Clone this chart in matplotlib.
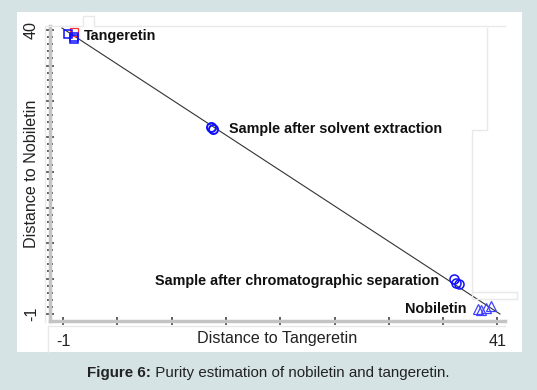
"""
Purity estimation plot (distance to tangeretin vs distance to nobiletin)
"""

import numpy as np
import matplotlib
matplotlib.use("Agg")
import matplotlib.pyplot as plt
from matplotlib.lines import Line2D
from matplotlib.patches import Rectangle

# data
tang_ref_x = [0.02]
tang_ref_y = [39.78]
tang_x = [-0.47, 0.06, 0.11]
tang_y = [39.49, 39.06, 38.70]
solvent_x = [13.31, 13.50]
solvent_y = [26.00, 25.78]
chrom_x = [36.75, 36.99, 37.28]
chrom_y = [4.05, 3.48, 3.40]
nob_x = [39.12, 39.41, 39.90, 40.38]
nob_y = [-0.28, -0.42, -0.13, 0.16]
fit_x = [-1.10, 41.24]
fit_y = [40.29, -1.00]

labels = ["Tangeretin", "Sample after solvent extraction",
          "Sample after chromatographic separation", "Nobiletin"]
label_x = [1.03, 15.05, 35.35, 38.05]
label_y = [39.2, 25.64, 3.77, -0.28]
label_ha = ["left", "left", "right", "right"]

x_ticks = np.linspace(-1, 41, 9)
y_ticks = np.linspace(-1, 40, 9)

W, H = 537, 390
plt.rcParams["font.family"] = ["Liberation Sans", "DejaVu Sans"]

fig = plt.figure(figsize=(W / 100, H / 100), dpi=100)
fig.patch.set_facecolor("#d5e3e4")

# white panel
fig.add_artist(Rectangle((17 / W, 1 - 352 / H), 505 / W, 340 / H,
                         transform=fig.transFigure, facecolor="white",
                         edgecolor="none", zorder=0))

# faint frame leftovers of the original export
faint = [
    ([45, 45, 83, 83, 94, 94, 505], [322, 26, 26, 16, 16, 26, 26]),
    ([487, 487, 472, 472, 517, 517, 472], [28, 130, 130, 299, 299, 292, 292]),
    ([505, 48, 48], [326, 326, 352]),
]
for px, py in faint:
    fig.add_artist(Line2D([v / W for v in px], [1 - v / H for v in py],
                          transform=fig.transFigure, color="#e9e9e9", lw=1, zorder=1))

ax = fig.add_axes([50 / W, 1 - 321 / H, 455 / W, 295 / H])
ax.set_facecolor("none")
ax.set_xlim(-2.257, 41.725)
ax.set_ylim(-2.01, 40.58)

ax.plot(fit_x, fit_y, color="#333333", lw=0.8, zorder=2)
ax.plot(tang_ref_x, tang_ref_y, "s", ms=5.5, mfc="none", mec="#ff3030", mew=0.9, zorder=3)
ax.plot(tang_x, tang_y, "s", ms=5.5, mfc="none", mec="#1010ff", mew=1.1, zorder=4)
ax.plot(solvent_x, solvent_y, "o", ms=6.5, mfc="none", mec="#1010ff", mew=1.4, zorder=4)
ax.plot(chrom_x, chrom_y, "o", ms=6.5, mfc="none", mec="#1010ff", mew=1.1, zorder=4)
ax.plot(nob_x, nob_y, "^", ms=6.5, mfc="none", mec="#4040ff", mew=0.9, zorder=4)

for txt, lx, ly, ha in zip(labels, label_x, label_y, label_ha):
    ax.text(lx, ly, txt, ha=ha, va="center", fontsize=10.4, fontweight="bold", color="#111111")

for side in ["top", "right"]:
    ax.spines[side].set_visible(False)
for side in ["left", "bottom"]:
    ax.spines[side].set_color("#c4c4c4")
    ax.spines[side].set_linewidth(2.5)

ax.set_xticks(x_ticks)
ax.set_xticklabels(["-1"] + [""] * 7 + ["41"])
ax.set_yticks(y_ticks)
ax.set_yticklabels(["-1"] + [""] * 7 + ["40"], rotation=90, va="center")
ax.set_yticks(np.arange(-1, 41, 41 / 40), minor=True)
ax.tick_params(axis="both", which="major", direction="inout", length=6, width=1.1,
               color="#333333", labelsize=11.6, labelcolor="#222222")
ax.tick_params(axis="x", pad=6)
ax.tick_params(axis="y", pad=5)
ax.tick_params(axis="y", which="minor", direction="inout", length=4, width=1.1, color="#333333")

ax.set_xlabel("Distance to Tangeretin", fontsize=11.6, color="#222222", va="center")
ax.xaxis.set_label_coords(0.5, -18 / 295)
ax.set_ylabel("Distance to Nobiletin", fontsize=11.6, color="#222222", va="center")
ax.yaxis.set_label_coords(-18 / 455, 0.5)

cap1 = fig.text(87 / W, 1 - 373 / H, "Figure 6:", fontsize=10.9, fontweight="bold",
                color="#222222", va="center")
ax.annotate(" Purity estimation of nobiletin and tangeretin.", xy=(1, 0), xycoords=cap1,
            va="bottom", ha="left", fontsize=10.9, color="#222222", annotation_clip=False)

fig.savefig("out.png", dpi=100, facecolor=fig.get_facecolor())
